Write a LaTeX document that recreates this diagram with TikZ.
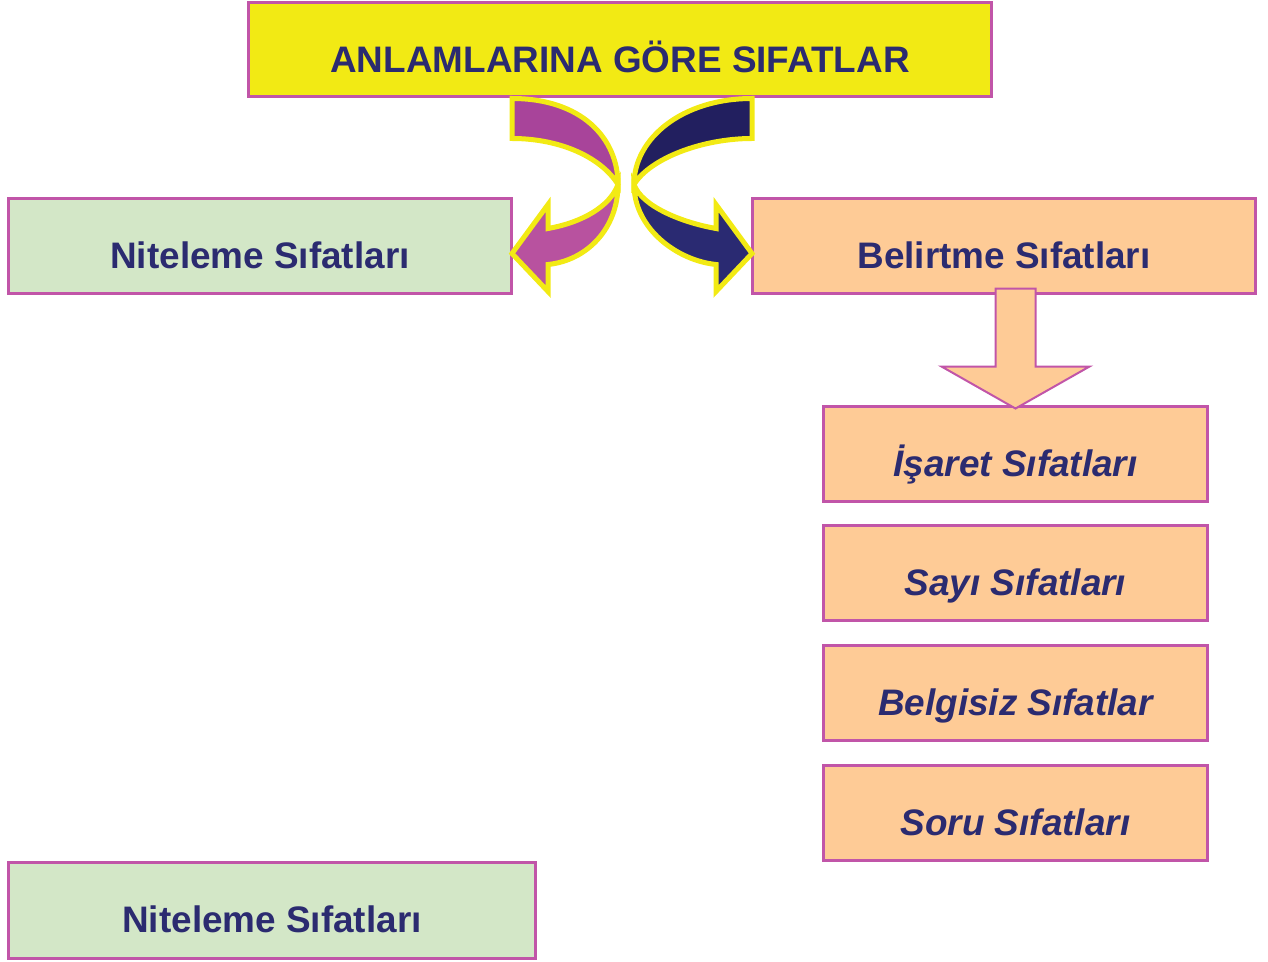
\documentclass[tikz,border=0pt]{standalone}
\usepackage{fontspec}
\setmainfont{Liberation Sans}
\usetikzlibrary{positioning, calc}

\definecolor{titleyellow}{HTML}{F2EA14}
\definecolor{boxborder}{HTML}{C155A8}
\definecolor{greenfill}{HTML}{D3E7C7}
\definecolor{peachfill}{HTML}{FECB96}
\definecolor{navytext}{HTML}{2B2B70}
\definecolor{plumdark}{HTML}{A8449A}
\definecolor{plumlight}{HTML}{B8529F}
\definecolor{navydark}{HTML}{221F5F}
\definecolor{navylight}{HTML}{2A2A72}

\tikzset{
  sbox/.style={draw=boxborder, line width=0.06cm, text=navytext,
    font=\fontsize{21}{25}\selectfont\bfseries,
    text height=0.9cm, text depth=0cm, inner sep=0pt},
  subbox/.style={sbox, fill=peachfill, minimum width=7.7cm, minimum height=1.9cm,
    font=\fontsize{21}{25}\selectfont\bfseries\itshape},
  ribbon/.style={draw=titleyellow, line width=0.1cm}
}

% twisted block arrow: upper colour, lower colour, bulge
\newcommand{\ribbonarrow}[3]{%
  \filldraw[ribbon, fill=#1] (-120,0) .. controls (-50,0) and (#3,40) .. (#3,86)
    .. controls (#3-16,60) and (-70,40) .. (-120,40) -- cycle;
  \filldraw[ribbon, fill=#2] (#3,86) .. controls (#3,130) and (-45,162) .. (-84,166)
    -- (-84,193) -- (-120,155) -- (-84,106) -- (-84,130)
    .. controls (-50,124) and (#3-8,108) .. (#3,86) -- cycle;
}

\begin{document}
\begin{tikzpicture}[x=0.02cm, y=-0.02cm, node distance=2.4cm, on grid]
  \useasboundingbox (0,0) rectangle (1268,961);

  \node[sbox, fill=titleyellow, minimum width=14.88cm, minimum height=1.9cm] (title) at (620,49.5) {ANLAMLARINA GÖRE SIFATLAR};
  \node[sbox, fill=greenfill, minimum width=10.08cm, minimum height=1.92cm] (niteleme) at (260,246) {Niteleme Sıfatları};
  \node[sbox, fill=peachfill, minimum width=10.08cm, minimum height=1.92cm] (belirtme) at (1004,246) {Belirtme Sıfatları};

  \node[subbox] (isaret) at (1015.5,453.5) {İşaret Sıfatları};
  \node[subbox] (sayi) [below=of isaret] {Sayı Sıfatları};
  \node[subbox] (belgisiz) [below=of sayi] {Belgisiz Sıfatlar};
  \node[subbox] (soru) [below=of belgisiz] {Soru Sıfatları};

  \node[sbox, fill=greenfill, minimum width=10.56cm, minimum height=1.92cm] (niteleme2) at (272,910) {Niteleme Sıfatları};

  % curved arrows under the title
  \begin{scope}[shift={($(title.south)+(12,0)$)}]
    \ribbonarrow{plumdark}{plumlight}{-14}
  \end{scope}
  \begin{scope}[shift={($(title.south)+(12,0)$)}, xscale=-1]
    \ribbonarrow{navydark}{navylight}{-2}
  \end{scope}

  % block arrow down to the sub-boxes
  \begin{scope}[shift={(isaret.north)}]
    \filldraw[fill=peachfill, draw=boxborder, line width=0.04cm]
      (-20,-116) -- (-20,-38) -- (-74,-38) -- (0,4) -- (74,-38) -- (20,-38) -- (20,-116) -- cycle;
  \end{scope}
\end{tikzpicture}
\end{document}
